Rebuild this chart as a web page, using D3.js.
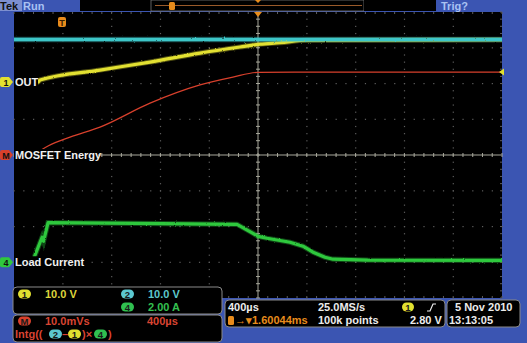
<html>
<head>
<meta charset="utf-8">
<style>
  body { margin:0; background:#3b55b2; }
  svg { display:block; }
  text { font-family:'Liberation Sans', Arial, sans-serif; font-weight:bold; }
</style>
</head>
<body>
<div id="scope"></div>
<script src="https://cdn.jsdelivr.net/npm/d3@7"></script>
<script>
// channel 2 (input, cyan) - volts
var ch2Time = [-2000, -1000, 0, 1000, 2000],
    ch2Volts = [11.9, 11.9, 11.9, 11.9, 11.9];
// channel 1 OUT (yellow) - volts
var ch1Time = [-2000, -1803, -1787, -1295, -885, -475, -148, 16, 180, 400, 2000],
    ch1Volts = [0, 0, 0.56, 3.36, 5.6, 8.1, 9.8, 10.6, 11.0, 11.7, 11.85];
// math: MOSFET energy (red) - mVs
var mathTime = [-1840, -1721, -1541, -1295, -885, -475, -205, 0, 300, 2000],
    mathMVs = [0, 2.5, 5.0, 7.8, 14.5, 19.6, 21.8, 23.1, 23.2, 23.2];
// channel 4 load current (green) - amps
var ch4Time = [-2000, -1844, -1828, -1770, -1758, -1721, -1000, -172, -41, 0, 74, 262, 369, 451, 549, 615, 900, 2000],
    ch4Amps = [0, 0, 0.39, 1.40, 1.17, 2.22, 2.17, 2.12, 1.62, 1.45, 1.34, 1.12, 0.90, 0.56, 0.28, 0.17, 0.12, 0.11];

var W = 527, H = 343,
    plotL = 14, plotR = 502, plotT = 12, plotB = 298,
    blue = '#3b55b2';

var svg = d3.select('#scope').append('svg').attr('width', W).attr('height', H);

// fuzzy look of the acquired traces
var fz = svg.append('defs').append('filter').attr('id', 'fuzz')
  .attr('filterUnits', 'userSpaceOnUse')
  .attr('x', 0).attr('y', 0).attr('width', W).attr('height', H);
fz.append('feTurbulence').attr('type', 'fractalNoise').attr('baseFrequency', '0.9 0.6')
  .attr('numOctaves', 1).attr('seed', 3).attr('result', 'n');
fz.append('feDisplacementMap').attr('in', 'SourceGraphic').attr('in2', 'n').attr('scale', 2.2)
  .attr('xChannelSelector', 'R').attr('yChannelSelector', 'G');

var x = d3.scaleLinear().domain([-2000, 2000]).range([plotL, plotR]),
    yDiv = d3.scaleLinear().domain([-4, 4]).range([plotB, plotT]);

// channel settings: per-div scale and position offset (divisions)
function yCh(perDiv, offset) {
  return function(v) { return yDiv(v / perDiv + offset); };
}
var y1 = yCh(10, 2.04), y2 = yCh(10, 2.04), y4 = yCh(2, -3), yM = yCh(10, 0);

svg.append('rect').attr('width', W).attr('height', H).attr('fill', blue);
svg.append('rect').attr('x', plotL).attr('y', plotT)
  .attr('width', plotR - plotL).attr('height', plotB - plotT).attr('fill', '#000');

// graticule
var grid = svg.append('g');
var xMajors = d3.range(-5, 6).map(function(i){ return plotL + (i + 5) * (plotR - plotL) / 10; }),
    yMajors = d3.range(-4, 5).map(function(j){ return yDiv(j); }),
    xMinor = (plotR - plotL) / 50, yMinor = (plotB - plotT) / 40;

xMajors.forEach(function(gx, i) {
  if (i === 0 || i === 10 || i === 5) return;
  d3.range(0, 41).forEach(function(k) {
    grid.append('rect').attr('x', gx - 0.5).attr('y', plotT + k * yMinor - 0.5)
      .attr('width', 1.2).attr('height', 1.2).attr('fill', '#5e5e5e');
  });
});
yMajors.forEach(function(gy, j) {
  if (j === 0 || j === 8 || j === 4) return;
  d3.range(0, 51).forEach(function(k) {
    grid.append('rect').attr('x', plotL + k * xMinor - 0.5).attr('y', gy - 0.5)
      .attr('width', 1.2).attr('height', 1.2).attr('fill', '#5e5e5e');
  });
});
// center axes with ticks
var cx = x(0), cy = yDiv(0);
grid.append('line').attr('x1', plotL).attr('x2', plotR).attr('y1', cy).attr('y2', cy)
  .attr('stroke', '#a8a89c').attr('stroke-width', 1);
grid.append('line').attr('x1', cx).attr('x2', cx).attr('y1', plotT).attr('y2', plotB)
  .attr('stroke', '#a8a89c').attr('stroke-width', 1);
d3.range(0, 51).forEach(function(k) {
  var tx = plotL + k * xMinor;
  grid.append('line').attr('x1', tx).attr('x2', tx).attr('y1', cy - 2).attr('y2', cy + 2)
    .attr('stroke', '#a8a89c');
  grid.append('line').attr('x1', tx).attr('x2', tx).attr('y1', plotT).attr('y2', plotT + 2)
    .attr('stroke', '#5e5e5e');
  grid.append('line').attr('x1', tx).attr('x2', tx).attr('y1', plotB - 2).attr('y2', plotB)
    .attr('stroke', '#5e5e5e');
});
d3.range(0, 41).forEach(function(k) {
  var ty = plotT + k * yMinor;
  grid.append('line').attr('x1', cx - 2).attr('x2', cx + 2).attr('y1', ty).attr('y2', ty)
    .attr('stroke', '#a8a89c');
  grid.append('line').attr('x1', plotR - 2).attr('x2', plotR).attr('y1', ty).attr('y2', ty)
    .attr('stroke', '#5e5e5e');
});

// traces
function trace(times, vals, yf, color, width, curve) {
  var data = times.map(function(t, i){ return [t, vals[i]]; });
  var line = d3.line().x(function(d){ return x(d[0]); }).y(function(d){ return yf(d[1]); })
    .curve(curve || d3.curveMonotoneX);
  var g = svg.append('g');
  if (width > 1.5) {
    g.attr('filter', 'url(#fuzz)');
    g.append('path').attr('d', line(data)).attr('fill', 'none')
      .attr('stroke', color).attr('stroke-opacity', 0.35).attr('stroke-width', width + 2);
  }
  g.append('path').attr('d', line(data)).attr('fill', 'none')
    .attr('stroke', color).attr('stroke-width', width).attr('stroke-linejoin', 'round');
}
trace(ch1Time, ch1Volts, y1, '#e2e030', 3.2);
trace(ch2Time, ch2Volts, y2, '#3ec6c8', 3.4);
trace(mathTime, mathMVs, yM, '#d8402c', 1.2);
trace(ch4Time, ch4Amps, y4, '#2fc83e', 3.2, d3.curveLinear);

// channel labels on the left (with black backing)
var tags = [
  { id: '1', text: 'OUT', color: '#e2e030', y: y1(0), w: 24 },
  { id: 'M', text: 'MOSFET Energy', color: '#d8402c', y: yM(0), w: 84 },
  { id: '4', text: 'Load Current', color: '#2fc83e', y: y4(0), w: 68 }
];
tags.forEach(function(t) {
  svg.append('rect').attr('x', 14).attr('y', t.y - 6).attr('width', t.w).attr('height', 12).attr('fill', '#000');
  svg.append('path')
    .attr('d', 'M2,' + (t.y - 5) + 'h7l4,5l-4,5h-7q-2,0 -2,-2v-6q0,-2 2,-2z')
    .attr('fill', t.color);
  svg.append('text').attr('x', 6).attr('y', t.y + 3.5).attr('text-anchor', 'middle')
    .attr('font-size', 9).attr('fill', '#111').text(t.id);
  svg.append('text').attr('x', 15).attr('y', t.y + 4).attr('font-size', 11)
    .attr('fill', '#f0f0f0').text(t.text);
});

// trigger markers
var orange = '#e88c1c';
svg.append('path').attr('d', 'M' + (cx - 4) + ',' + plotT + 'h8l-4,5z').attr('fill', orange);
svg.append('rect').attr('x', 58).attr('y', 17).attr('width', 8).attr('height', 10).attr('rx', 2).attr('fill', orange);
svg.append('text').attr('x', 62).attr('y', 25.5).attr('text-anchor', 'middle').attr('font-size', 9)
  .attr('fill', '#3a2000').text('T');
svg.append('path').attr('d', 'M' + (plotR - 3) + ',' + y1(2.8) + 'l5,-3.5v7z').attr('fill', '#e2e030');

// top bar
svg.append('rect').attr('x', 0).attr('y', 0).attr('width', 22).attr('height', 11).attr('fill', '#7d8fcf');
svg.append('text').attr('x', 0).attr('y', 10).attr('font-size', 11).attr('font-weight', 'normal')
  .attr('fill', '#111').text('Tek');
svg.append('text').attr('x', 23).attr('y', 10).attr('font-size', 11).attr('fill', '#a9c2f2').text('Run');
svg.append('rect').attr('x', 80).attr('y', 0).attr('width', 71).attr('height', 11).attr('fill', '#000');
svg.append('rect').attr('x', 151).attr('y', 0).attr('width', 213).attr('height', 11)
  .attr('fill', '#000').attr('stroke', '#777').attr('stroke-width', 0.8);
svg.append('line').attr('x1', 155).attr('x2', 362).attr('y1', 5.5).attr('y2', 5.5)
  .attr('stroke', '#9a5a2a').attr('stroke-width', 1.2);
svg.append('rect').attr('x', 169).attr('y', 2).attr('width', 6).attr('height', 8).attr('rx', 1.5).attr('fill', orange);
svg.append('path').attr('d', 'M' + (cx - 3) + ',0h6l-3,3z').attr('fill', orange);
svg.append('rect').attr('x', 364).attr('y', 0).attr('width', 72).attr('height', 11).attr('fill', '#000');
svg.append('text').attr('x', 441).attr('y', 10).attr('font-size', 11).attr('fill', '#a9c2f2').text('Trig?');

// readout boxes
function box(x0, y0, w, h) {
  svg.append('rect').attr('x', x0).attr('y', y0).attr('width', w).attr('height', h).attr('rx', 4)
    .attr('fill', '#000').attr('stroke', '#8a8a8a').attr('stroke-width', 1);
}
function pill(px, py, color, label, w) {
  w = w || 13;
  svg.append('rect').attr('x', px).attr('y', py - 4.5).attr('width', w).attr('height', 9).attr('rx', 4.5).attr('fill', color);
  svg.append('text').attr('x', px + w / 2).attr('y', py + 3.5).attr('text-anchor', 'middle')
    .attr('font-size', 9.5).attr('fill', '#1a1a1a').text(label);
}
function label(tx, ty, color, s) {
  svg.append('text').attr('x', tx).attr('y', ty).attr('font-size', 11).attr('fill', color).text(s);
}
var cYel = '#dcd43c', cCyan = '#5cc8cc', cGrn = '#34c050', cRed = '#d84432', cWhite = '#ececec';

box(13, 287, 209, 27);
pill(18, 294, '#e2e030', '1');
label(45, 298, cYel, '10.0 V');
pill(121, 294, '#5cc8d0', '2');
label(148, 298, cCyan, '10.0 V');
pill(121, 307, '#30c050', '4');
label(148, 311, cGrn, '2.00 A');

box(13, 315, 209, 27);
pill(18, 321, '#d8402c', 'M');
label(45, 325, cRed, '10.0mVs');
label(147, 325, cRed, '400\u00b5s');
label(15, 338, cRed, 'Intg((');
pill(49, 334, '#5cc8d0', '2');
label(62, 338, cRed, '\u2013');
pill(68, 334, '#e2e030', '1');
label(82, 338, cRed, ')\u00d7');
pill(94, 334, '#30c050', '4');
label(108, 338, cRed, ')');

box(225, 300, 220, 27);
label(228, 311, cWhite, '400\u00b5s');
label(318, 311, cWhite, '25.0MS/s');
pill(402, 307, '#e2e030', '1', 12);
svg.append('path').attr('d', 'M427,311h3l3,-7h3').attr('fill', 'none').attr('stroke', cWhite).attr('stroke-width', 1.2);
svg.append('rect').attr('x', 228).attr('y', 316).attr('width', 6).attr('height', 9).attr('rx', 1.5).attr('fill', orange);
label(235, 324, orange, '\u2192\u25be1.60044ms');
label(318, 324, cWhite, '100k points');
label(410, 324, cWhite, '2.80 V');

box(447, 300, 73, 27);
label(455, 311, cWhite, '5 Nov 2010');
label(449, 324, cWhite, '13:13:05');
</script>
</body>
</html>
